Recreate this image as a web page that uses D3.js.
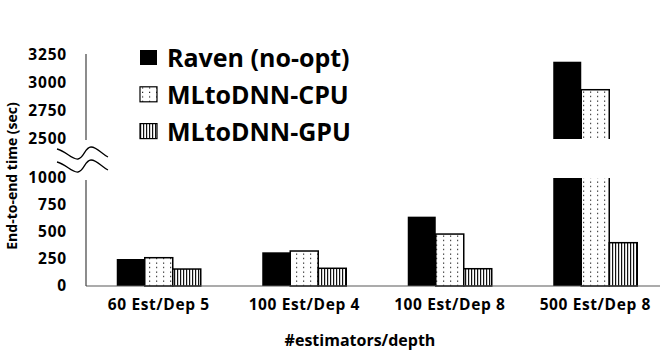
<!DOCTYPE html>
<html>
<head>
    <meta charset='utf-8'>
    <title>Broken axis bars</title>
    <script type='text/javascript' src='https://cdn.jsdelivr.net/npm/d3@7'></script>
    <style>
        body { margin: 0; background: #fff; }
        text { font-family: 'Open Sans', sans-serif; font-weight: bold; fill: #000; }
    </style>
</head>
<body>
    <svg width='664' height='354'></svg>
    <script type='text/javascript'>

        const categories = ['60 Est/Dep 5', '100 Est/Dep 4', '100 Est/Dep 8', '500 Est/Dep 8']
        const seriesNames = ['Raven (no-opt)', 'MLtoDNN-CPU', 'MLtoDNN-GPU']
        const raven = [250, 312, 642, 3190]
        const cpu = [262, 324, 481, 2940]
        const gpu = [157, 164, 160, 401]
        const lowerTicks = [0, 250, 500, 750, 1000]
        const upperTicks = [2500, 2750, 3000, 3250]

        const svg = d3.select('svg')
        const defs = svg.append('defs')

        // dotted fill
        const dots = defs.append('pattern').attr('id', 'dots')
            .attr('patternUnits', 'userSpaceOnUse').attr('width', 7).attr('height', 4.5)
        dots.append('rect').attr('width', 7).attr('height', 4.5).attr('fill', '#fff')
        dots.append('rect').attr('x', 2).attr('y', 1.5).attr('width', 1.2).attr('height', 1.2).attr('fill', '#222')

        // vertical stripes
        const stripes = defs.append('pattern').attr('id', 'stripes')
            .attr('patternUnits', 'userSpaceOnUse').attr('width', 3).attr('height', 4)
        stripes.append('rect').attr('width', 3).attr('height', 4).attr('fill', '#fff')
        stripes.append('rect').attr('x', 0).attr('width', 1.2).attr('height', 4).attr('fill', '#111')

        const fills = ['#000', 'url(#dots)', 'url(#stripes)']
        const strokes = ['none', '#000', '#000']

        const x = d3.scaleBand().domain(categories).range([86, 668])
        const xs = d3.scaleBand().domain(d3.range(3)).range([0, 84])
        const lowerY = d3.scaleLinear().domain([0, 1000]).range([286, 178])
        const upperY = d3.scaleLinear().domain([2500, 3250]).range([139, 55])

        const rows = categories.map((c, i) => [raven[i], cpu[i], gpu[i]].map((v, s) => ({ c, s, v })))
        const flat = rows.flat()

        defs.append('clipPath').attr('id', 'clipLow').append('rect')
            .attr('x', 0).attr('y', lowerY(1000)).attr('width', 664).attr('height', 200)
        defs.append('clipPath').attr('id', 'clipUp').append('rect')
            .attr('x', 0).attr('y', 0).attr('width', 664).attr('height', upperY(2500))

        const groupX = d => x(d.c) + (x.bandwidth() - 84) / 2 + xs(d.s)

        // lower panel
        svg.append('g').attr('clip-path', 'url(#clipLow)')
            .selectAll('rect').data(flat).enter().append('rect')
            .attr('x', groupX)
            .attr('width', xs.bandwidth())
            .attr('y', d => lowerY(Math.min(d.v, 1020)))
            .attr('height', d => lowerY(0) - lowerY(Math.min(d.v, 1020)))
            .attr('fill', d => fills[d.s])
            .attr('stroke', d => strokes[d.s])
            .attr('stroke-width', 1.5)

        // upper panel
        svg.append('g').attr('clip-path', 'url(#clipUp)')
            .selectAll('rect').data(flat.filter(d => d.v > 2500)).enter().append('rect')
            .attr('x', groupX)
            .attr('width', xs.bandwidth())
            .attr('y', d => upperY(d.v))
            .attr('height', d => upperY(2480) - upperY(d.v))
            .attr('fill', d => fills[d.s])
            .attr('stroke', d => strokes[d.s])
            .attr('stroke-width', 1.5)

        // axis lines
        svg.append('line').attr('x1', 86).attr('x2', 660).attr('y1', lowerY(0)).attr('y2', lowerY(0))
            .attr('stroke', '#595959').attr('stroke-width', 1.2)
        svg.append('line').attr('x1', 86).attr('x2', 86).attr('y1', 180).attr('y2', lowerY(0))
            .attr('stroke', '#404040').attr('stroke-width', 1.2)
        svg.append('line').attr('x1', 86).attr('x2', 86).attr('y1', 54).attr('y2', 140)
            .attr('stroke', '#404040').attr('stroke-width', 1.2)

        // y ticks
        const lowAxis = svg.append('g').attr('transform', 'translate(86,0)')
            .call(d3.axisLeft(lowerY).tickValues(lowerTicks).tickFormat(d3.format('d')).tickSize(0).tickPadding(19))
        const upAxis = svg.append('g').attr('transform', 'translate(86,0)')
            .call(d3.axisLeft(upperY).tickValues(upperTicks).tickFormat(d3.format('d')).tickSize(0).tickPadding(19))
        ;[lowAxis, upAxis].forEach(g => {
            g.select('.domain').remove()
            g.selectAll('text').attr('font-size', 15.5).attr('letter-spacing', 0.8)
                .attr('font-family', 'Open Sans').attr('font-weight', 'bold').attr('fill', '#000')
        })

        // break marks
        const wave = dy => `M57,${149 + dy} C66,${151 + dy} 72,${160 + dy} 78,${159 + dy} C84,${158 + dy} 85,${147 + dy} 91,${147 + dy} C97,${147 + dy} 102,${154 + dy} 108,${157 + dy}`
        ;[0, 13].forEach(dy => svg.append('path').attr('d', wave(dy))
            .attr('fill', 'none').attr('stroke', '#000').attr('stroke-width', 1.3))

        // x labels
        svg.append('g').attr('transform', `translate(0,${lowerY(0)})`)
            .call(d3.axisBottom(x).tickSize(0).tickPadding(13))
            .call(g => g.select('.domain').remove())
            .selectAll('text').attr('font-size', 15.5).attr('letter-spacing', 0.6)
            .attr('font-family', 'Open Sans').attr('font-weight', 'bold').attr('fill', '#000')

        svg.append('text').attr('x', 360).attr('y', 346).attr('text-anchor', 'middle')
            .attr('font-size', 16).text('#estimators/depth')

        svg.append('text').attr('transform', 'translate(17,176) rotate(-90)')
            .attr('text-anchor', 'middle').attr('font-size', 14).text('End-to-end time (sec)')

        // legend
        const legend = svg.append('g').selectAll('g').data(seriesNames).enter().append('g')
            .attr('transform', (d, i) => `translate(140,${67 + i * 36.8})`)
        legend.append('rect').attr('y', -17).attr('width', 17).attr('height', 15)
            .attr('fill', (d, i) => fills[i]).attr('stroke', (d, i) => strokes[i]).attr('stroke-width', 1.2)
        legend.append('text').attr('x', 27).attr('y', 0).attr('font-size', 25).text(d => d)

    </script>
</body>
</html>
